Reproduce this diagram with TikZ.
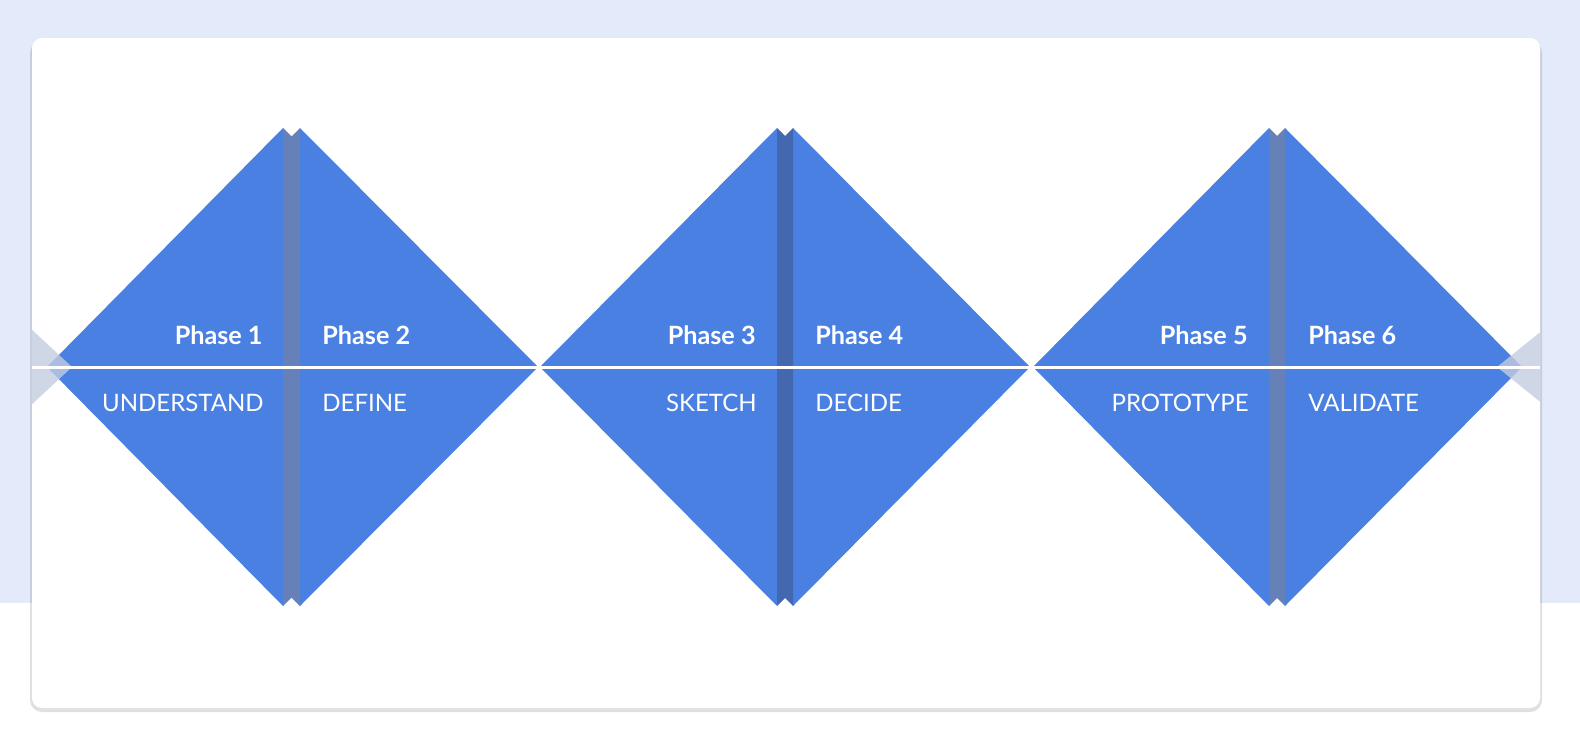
\documentclass[tikz,border=0pt]{standalone}
\usepackage{fontspec}
\setmainfont{Lato}
\definecolor{bgblue}{HTML}{E3EBFA}
\definecolor{tri}{HTML}{4A80E2}
\definecolor{strip}{HTML}{6680B8}
\definecolor{strip2}{HTML}{4468B0}
\definecolor{edge}{HTML}{C3CDE0}
\tikzset{
  tri/.style={fill=tri,draw=none},
  ph/.style={text=white,font=\bfseries\fontsize{12.6}{14}\selectfont,inner sep=0pt},
  lab/.style={text=white,font=\fontsize{12}{14}\selectfont,inner sep=0pt},
}
\newcommand{\pairdraw}[4]{% apexL, peakL, peakR, apexR
  \fill[tri] (#1,367) -- (#2,128) -- (#2,606) -- cycle;
  \fill[tri] (#4,367) -- (#3,128) -- (#3,606) -- cycle;
}
\begin{document}
\begin{tikzpicture}[x=0.5pt,y=-0.5pt]
\useasboundingbox (0,0) rectangle (1580,744);
\fill[bgblue] (0,0) rectangle (1580,603);
\fill[white] (0,603) rectangle (1580,744);
\fill[black,opacity=0.12,rounded corners=6pt] (30,41) rectangle (1542,712);
\fill[white,rounded corners=5pt] (32,38) rectangle (1540,708);
\begin{scope}
\clip (32,38) rectangle (1540,708);
\pairdraw{47}{283}{300}{538}
\fill[strip] (283,128) -- (291.5,136.5) -- (300,128) -- (300,606) -- (291.5,597.5) -- (283,606) -- cycle;
\pairdraw{540}{777}{793}{1030}
\fill[strip2] (777,128) -- (785,136) -- (793,128) -- (793,606) -- (785,598) -- (777,606) -- cycle;
\pairdraw{1033}{1269}{1285}{1522}
\fill[strip] (1269,128) -- (1277,136) -- (1285,128) -- (1285,606) -- (1277,598) -- (1269,606) -- cycle;
% edge triangles
\fill[edge,opacity=0.8] (0,300) -- (72,367) -- (0,434) -- cycle;
\fill[edge,opacity=0.8] (1580,300) -- (1497,367) -- (1580,434) -- cycle;
\end{scope}
\draw[white,line width=1.5pt] (32,367) -- (1540,367);
\node[ph,anchor=base east] (p1) at (263,344) {Phase 1};
\node[ph,anchor=base west] (p2) at (322,344) {Phase 2};
\node[ph,anchor=base east] (p3) at (756,344) {Phase 3};
\node[ph,anchor=base west] (p4) at (815,344) {Phase 4};
\node[ph,anchor=base east] (p5) at (1248,344) {Phase 5};
\node[ph,anchor=base west] (p6) at (1308,344) {Phase 6};
\node[lab,anchor=base east] (l1) at (264,411) {UNDERSTAND};
\node[lab,anchor=base west] (l2) at (322,411) {DEFINE};
\node[lab,anchor=base east] (l3) at (757,411) {SKETCH};
\node[lab,anchor=base west] (l4) at (815,411) {DECIDE};
\node[lab,anchor=base east] (l5) at (1249,411) {PROTOTYPE};
\node[lab,anchor=base west] (l6) at (1308,411) {VALIDATE};
\end{tikzpicture}
\end{document}
